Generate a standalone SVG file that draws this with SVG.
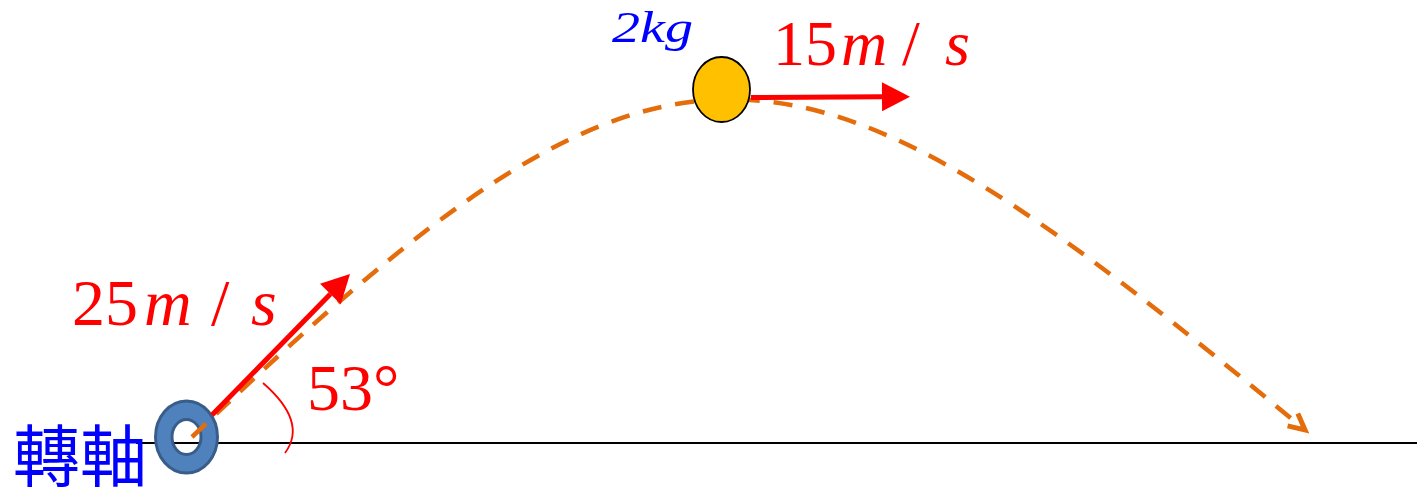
<svg xmlns="http://www.w3.org/2000/svg" width="1417" height="498" viewBox="0 0 1417 498">
<style>
.red{fill:#FF0000;font-family:"Liberation Serif","Times New Roman",serif}
.it{font-style:italic}
.blue{fill:#0000FF}
.traj{fill:none;stroke:#E46C0A;stroke-width:4.5;stroke-dasharray:19 14}
.vel{stroke:#FF0000;stroke-width:5;fill:none}
</style>
<defs>
<marker id="redHead" markerUnits="userSpaceOnUse" markerWidth="30" markerHeight="30" refX="0" refY="14.5" orient="auto" overflow="visible">
<path d="M0,0 L28,14.5 L0,29 Z" fill="#FF0000"/>
</marker>
<marker id="orangeHead" markerUnits="userSpaceOnUse" markerWidth="30" markerHeight="30" refX="0" refY="0" orient="auto" overflow="visible">
<path d="M-16,-8 L0,0 L-16,8" fill="none" stroke="#E46C0A" stroke-width="5" stroke-linejoin="miter"/>
</marker>
</defs>

<line id="ground" x1="136" y1="443" x2="1417" y2="443" stroke="#000" stroke-width="2"/>

<g id="axis">
<path d="M155.5,437 a31,36 0 1,0 62,0 a31,36 0 1,0 -62,0 Z M172,437 a14.5,17.5 0 1,0 29,0 a14.5,17.5 0 1,0 -29,0 Z" fill="#4F81BD" fill-rule="evenodd" stroke="#385D8A" stroke-width="3"/>
<text x="13" y="481" class="blue" font-family="'Noto Sans CJK TC','Noto Sans CJK SC',serif" font-size="67">轉軸</text>
</g>

<g id="connectors">
<path class="traj" d="M192,437 C674,-25 789,1 1305,430" marker-end="url(#orangeHead)"/>
<line class="vel" x1="212" y1="415" x2="330.4" y2="294" marker-end="url(#redHead)"/>
<line class="vel" x1="751" y1="97.5" x2="882" y2="96.8" marker-end="url(#redHead)"/>
<path d="M263,383 Q308,422 285,453" fill="none" stroke="#FF0000" stroke-width="1.8"/>
</g>

<g id="ball">
<ellipse cx="721.5" cy="89.5" rx="28.5" ry="32.5" fill="#FFC000" stroke="#000" stroke-width="1.8"/>
<text x="612" y="42" class="blue it" font-family="'Liberation Serif',serif" font-size="44" textLength="81" lengthAdjust="spacingAndGlyphs">2kg</text>
</g>

<g id="label-v0">
<text class="red" font-size="66" y="325"><tspan x="72">25</tspan><tspan x="144" class="it">m</tspan><tspan x="211">/</tspan><tspan x="251" class="it">s</tspan></text>
</g>

<g id="label-v1">
<text class="red" font-size="64" y="65"><tspan x="773">15</tspan><tspan x="841" class="it">m</tspan><tspan x="902">/</tspan><tspan x="945" class="it">s</tspan></text>
</g>

<g id="label-angle">
<text class="red" font-size="66" x="307" y="410">53°</text>
</g>
</svg>
